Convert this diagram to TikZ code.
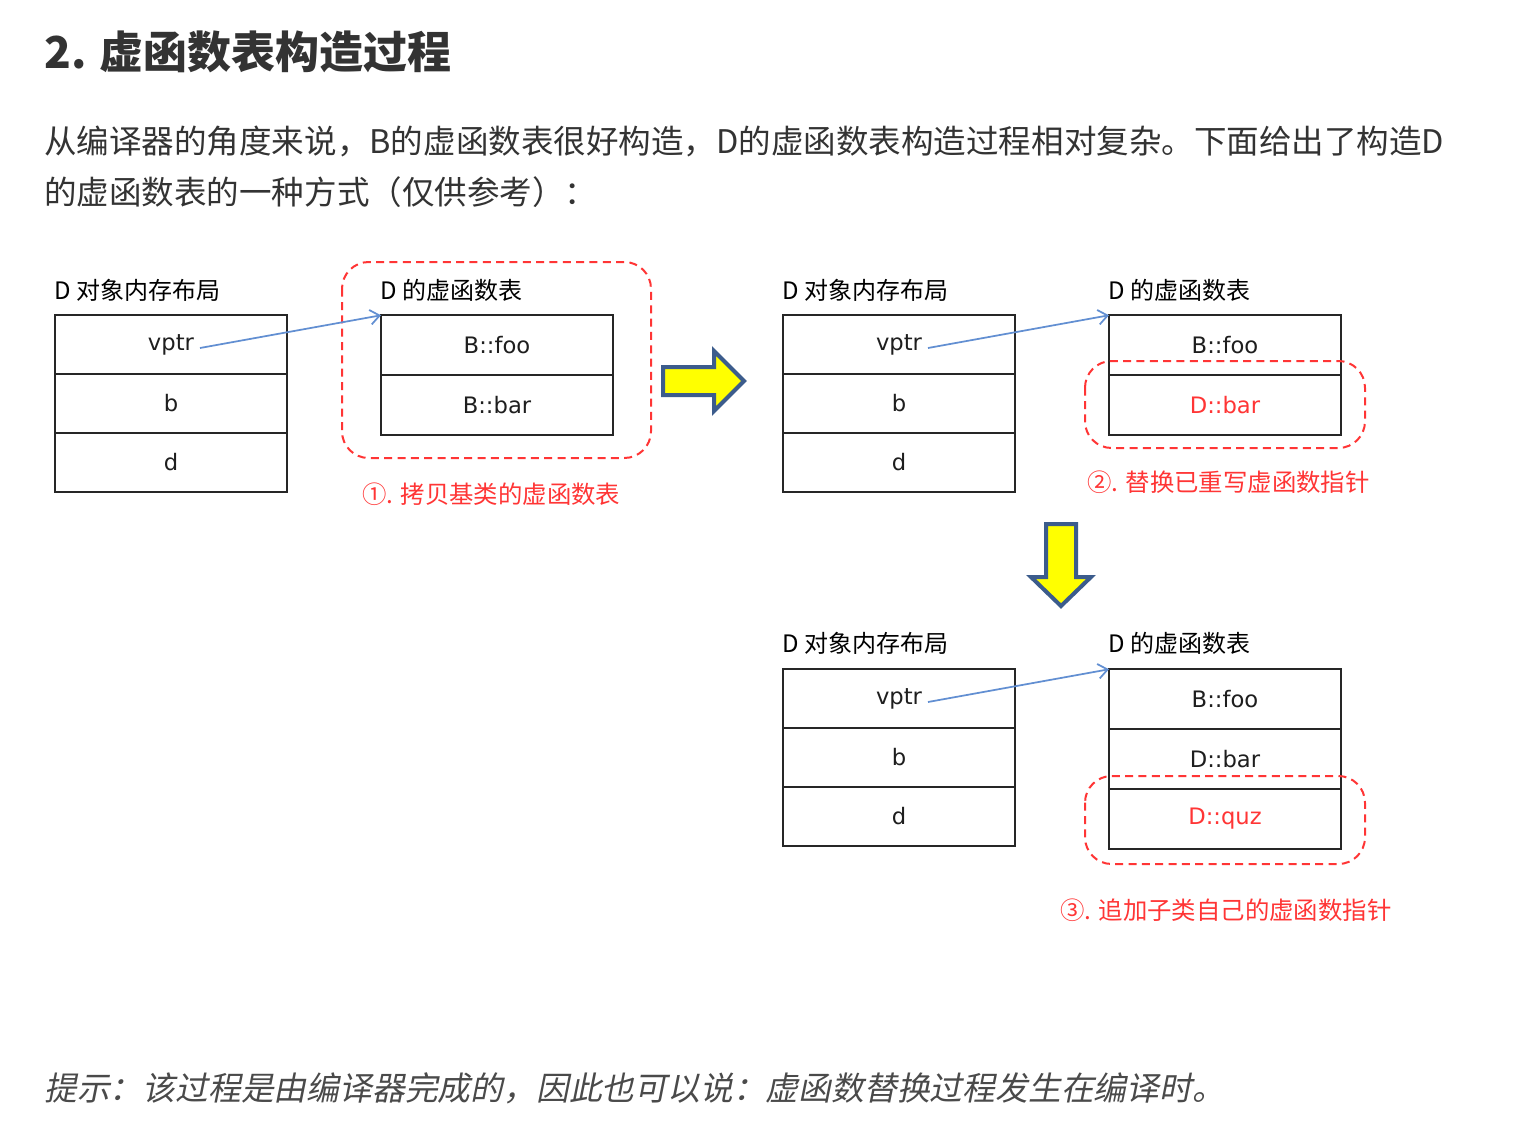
\documentclass[tikz,border=0pt]{standalone}
\usepackage{fontspec}
\setmainfont{Noto Sans CJK SC}
\newfontfamily\cjk{Noto Sans CJK SC}
\newfontfamily\cjkit[FakeSlant=0.2]{Noto Sans CJK SC}
\newfontfamily\cellfont{DejaVu Sans}
\usetikzlibrary{arrows.meta,calc}
\definecolor{txt}{HTML}{333333}
\definecolor{hint}{HTML}{4A4A4A}
\definecolor{redd}{HTML}{FF3535}
\definecolor{bluel}{HTML}{628FD2}
\definecolor{navy}{HTML}{3C5C8C}
\definecolor{yel}{HTML}{FFFF00}
\definecolor{celltxt}{HTML}{1E1E1E}
\begin{document}
\begin{tikzpicture}[x=0.75pt,y=-0.75pt,
  cell/.style={draw=black!85, line width=1.5pt, minimum width=174pt, minimum height=44.6pt,
    inner sep=0pt, outer sep=0pt, text=celltxt,
    font=\cellfont\fontsize{17pt}{17pt}\selectfont},
  redtxt/.style={text=redd},
  lbl/.style={anchor=west, inner sep=0pt, font=\cjk\fontsize{18pt}{18pt}\selectfont, text=black},
  captxt/.style={anchor=west, inner sep=0pt, font=\cjk\fontsize{18.3pt}{18.3pt}\selectfont, text=redd},
  dashbox/.style={draw=redd, line width=1.5pt, dash pattern=on 6pt off 4pt, rounded corners=20pt},
  ptr/.style={draw=bluel, line width=1.3pt, -{Straight Barb[length=7pt,width=11pt,line width=1.3pt]}},
  bigarrow/.style={draw=navy, fill=yel, line width=3pt, line join=miter},
  para/.style={anchor=west, inner sep=0pt, text=txt, font=\cjk\fontsize{24.4pt}{24.4pt}\selectfont}
]
\useasboundingbox[fill=white] (0,0) rectangle (1522,1140);

% heading and text
\node[anchor=west, inner sep=0pt, text=txt, font=\cjk\bfseries\fontsize{33pt}{33pt}\selectfont] (title) at (44,52) {2. 虚函数表构造过程};
\node[para] (p1) at (44,141) {从编译器的角度来说，B的虚函数表很好构造，D的虚函数表构造过程相对复杂。下面给出了构造D};
\node[para] (p2) at (44,192) {的虚函数表的一种方式（仅供参考）：};
\node[para, text=hint, font=\cjkit\fontsize{24.6pt}{24.6pt}\selectfont] (hint) at (44,1088) {提示：该过程是由编译器完成的，因此也可以说：虚函数替换过程发生在编译时。};

% ---------- panel 1 ----------
\node[lbl] (l1) at (54,290) {D 对象内存布局};
\node[cell] (m1a) at (171,344.5) {vptr};
\node[cell] (m1b) at (171,403.5) {b};
\node[cell] (m1c) at (171,462.5) {d};
\draw[dashbox] (342,262) rectangle (651,458);
\node[lbl] (l2) at (380,290) {D 的虚函数表};
\node[cell] (t1a) at (497,345) {B::foo};
\node[cell] (t1b) at (497,405) {B::bar};
\node[captxt] (c1) at (362,494) {①. 拷贝基类的虚函数表};
\coordinate (p1s) at ($(m1a.center)+(29,3.5)$);
\draw[ptr] (p1s) -- (t1a.north west);

% right arrow
\draw[bigarrow] (663,367) -- (714,367) -- (714,351) -- (744,381) -- (714,411) -- (714,395) -- (663,395) -- cycle;

% ---------- panel 2 ----------
\node[lbl] (l3) at (782,290) {D 对象内存布局};
\node[cell] (m2a) at (899,344.5) {vptr};
\node[cell] (m2b) at (899,403.5) {b};
\node[cell] (m2c) at (899,462.5) {d};
\node[lbl] (l4) at (1108,290) {D 的虚函数表};
\node[cell] (t2a) at (1225,345) {B::foo};
\node[cell, redtxt] (t2b) at (1225,405) {D::bar};
\draw[dashbox] (1085,361) rectangle (1365,448);
\node[captxt] (c2) at (1087,482) {②. 替换已重写虚函数指针};
\coordinate (p2s) at ($(m2a.center)+(29,3.5)$);
\draw[ptr] (p2s) -- (t2a.north west);

% down arrow
\draw[bigarrow] (1046,524) -- (1076,524) -- (1076,577) -- (1091,577) -- (1061,606) -- (1031,577) -- (1046,577) -- cycle;

% ---------- panel 3 ----------
\node[lbl] (l5) at (782,643) {D 对象内存布局};
\node[cell] (m3a) at (899,698.5) {vptr};
\node[cell] (m3b) at (899,757.5) {b};
\node[cell] (m3c) at (899,816.5) {d};
\node[lbl] (l6) at (1108,643) {D 的虚函数表};
\node[cell] (t3a) at (1225,699) {B::foo};
\node[cell] (t3b) at (1225,759) {D::bar};
\node[cell, redtxt] (t3c) at (1225,819) {D::quz};
\draw[dashbox] (1085,776) rectangle (1365,864);
\node[captxt] (c3) at (1060,910) {③. 追加子类自己的虚函数指针};
\coordinate (p3s) at ($(m3a.center)+(29,3.5)$);
\draw[ptr] (p3s) -- (t3a.north west);
\end{tikzpicture}
\end{document}
